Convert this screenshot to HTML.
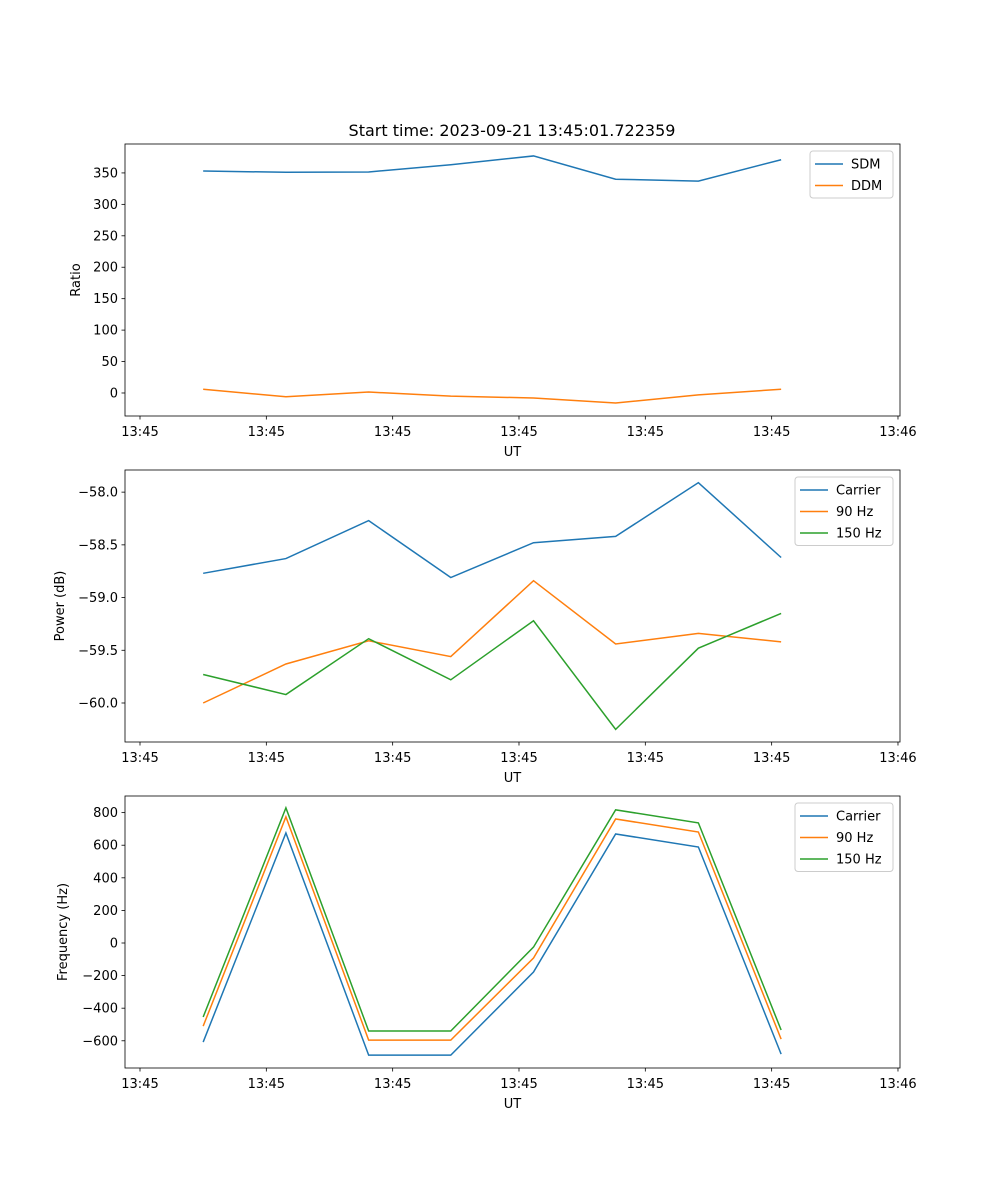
<!DOCTYPE html>
<html><head><meta charset="utf-8"><style>
body{margin:0;background:#fff}
svg{display:block;font-family:"DejaVu Sans","Liberation Sans",sans-serif}
</style></head><body>
<svg id="fig" width="1000" height="1200"></svg>
<script>
const times=[5.0,11.55,18.1,24.6,31.15,37.65,44.2,50.75];
const xTickLabels=["13:45","13:45","13:45","13:45","13:45","13:45","13:46"];
const xTickVals=[0,10,20,30,40,50,60];
const sdm=[353,351,351.5,363,377,340,337,371];
const ddm=[6,-6,1.5,-5,-8,-16,-3,6];
const pCarrier=[-58.77,-58.63,-58.27,-58.81,-58.48,-58.42,-57.91,-58.62];
const p90=[-60.0,-59.63,-59.41,-59.56,-58.84,-59.44,-59.34,-59.42];
const p150=[-59.73,-59.92,-59.39,-59.78,-59.22,-60.25,-59.48,-59.15];
const fCarrier=[-608,675,-688,-688,-178,669,589,-682];
const f90=[-510,774,-596,-596,-92,761,681,-590];
const f150=[-454,829,-540,-540,-25,817,737,-534];
const ticks1=[0,50,100,150,200,250,300,350];
const ticks2=[-60.0,-59.5,-59.0,-58.5,-58.0];
const ticks3=[-600,-400,-200,0,200,400,600,800];

const NS="http://www.w3.org/2000/svg";
const svg=document.getElementById('fig');
function mk(tag,attrs,parent,text){const e=document.createElementNS(NS,tag);for(const k in attrs)e.setAttribute(k,attrs[k]);if(text!==undefined)e.textContent=text;(parent||svg).appendChild(e);return e;}
const L=125,R=900;
const xs=t=>140+t*12.633;
const C=["#1f77b4","#ff7f0e","#2ca02c"];

function panel(name,top,bot,ymin,ymax,ticks,fmt,ylabel,series,names,legendW){
  const g=mk('g',{});
  
  
  const ys=v=>bot-(v-ymin)/(ymax-ymin)*(bot-top);
  series.forEach((s,i)=>{
    const p=mk('polyline',{points:s.map((v,j)=>xs(times[j])+','+ys(v)).join(' '),fill:'none',stroke:C[i],'stroke-width':1.5},g);
    
    
  });
  const fr=mk('rect',{x:L,y:top,width:R-L,height:bot-top,fill:'none',stroke:'#000','stroke-width':0.8},g);
  
  ticks.forEach(v=>{const y=ys(v);mk('line',{x1:L-3.5,x2:L,y1:y,y2:y,stroke:'#000','stroke-width':0.8},g);
    const t=mk('text',{x:L-7,y:y+4.5,'text-anchor':'end','font-size':13},g,fmt(v));
    });
  xTickVals.forEach((v,i)=>{const x=xs(v);mk('line',{x1:x,x2:x,y1:bot,y2:bot+3.5,stroke:'#000','stroke-width':0.8},g);
    const t=mk('text',{x:x,y:bot+20,'text-anchor':'middle','font-size':13},g,xTickLabels[i]);
    });
  const xl=mk('text',{x:(L+R)/2,y:bot+40,'text-anchor':'middle','font-size':13},g,'UT');
  
  const yl=mk('text',{x:0,y:0,'text-anchor':'middle','font-size':13,transform:`translate(${ylabel[1]},${(top+bot)/2}) rotate(-90)`},g,ylabel[0]);
  
  // legend
  const lh=21.5, lw=legendW, lx=R-7-lw, ly=top+7;
  const lg=mk('g',{},g);
  
  mk('rect',{x:lx,y:ly,width:lw,height:names.length*lh+4,rx:3,fill:'#fff','fill-opacity':0.8,stroke:'#ccc'},lg);
  names.forEach((n,i)=>{const y=ly+13+i*lh;
    mk('line',{x1:lx+5,x2:lx+33,y1:y,y2:y,stroke:C[i],'stroke-width':1.5},lg);
    const t=mk('text',{x:lx+41,y:y+4.5,'font-size':13},lg,n);
    });
}
const title=mk('text',{x:512,y:136,'text-anchor':'middle','font-size':16},svg,'Start time: 2023-09-21 13:45:01.722359');

panel('ratio',144,416,-36.6,396,ticks1,v=>String(v),['Ratio',80],[sdm,ddm],['SDM','DDM'],83);
panel('power',470,742,-60.37,-57.79,ticks2,v=>v.toFixed(1).replace('-','\u2212'),['Power (dB)',64],[pCarrier,p90,p150],['Carrier','90 Hz','150 Hz'],98);
panel('frequency',796,1068,-767,902,ticks3,v=>String(v).replace('-','\u2212'),['Frequency (Hz)',67],[fCarrier,f90,f150],['Carrier','90 Hz','150 Hz'],98);
</script>
</body></html>
